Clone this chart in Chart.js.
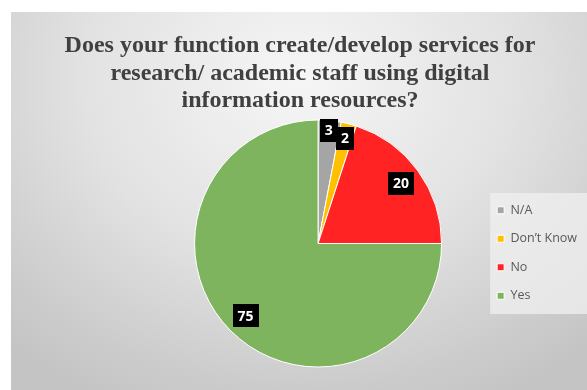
<!DOCTYPE html>
<html>
<head>
<meta charset="utf-8">
<script src="https://cdn.jsdelivr.net/npm/chart.js@4"></script>
<style>
  html, body { margin: 0; padding: 0; background: #fff; }
  #frame {
    position: absolute; left: 11px; top: 12px; width: 576px; height: 378px;
    background: radial-gradient(ellipse 75% 95% at 50% 18%, #f6f6f6 0%, #e2e2e2 50%, #cccccc 85%, #c4c4c4 100%);
  }
</style>
</head>
<body>
<div id="frame"><canvas id="myChart01"></canvas></div>
<script>
var titleLines = ["Does your function create/develop services for", "research/ academic staff using digital", "information resources?"];
var categories = ["N/A", "Don\u2019t Know", "No", "Yes"];
var responses = [3, 2, 20, 75];
var sliceColors = ["#a5a5a5", "#ffc000", "#ff2323", "#7fb45f"];
// how far out each value box sits, as a share of the radius
var labelReach = [0.92, 0.88, 0.83, 0.83];

// value boxes: black square with white number
var valueBoxes = {
    id: 'valueBoxes',
    afterDatasetsDraw: function (chart) {
        var ctx = chart.ctx;
        var meta = chart.getDatasetMeta(0);
        ctx.save();
        ctx.font = "bold 14px 'Open Sans'";
        ctx.textAlign = 'center';
        ctx.textBaseline = 'middle';
        meta.data.forEach(function (arc, i) {
            var p = arc.getProps(['x', 'y', 'startAngle', 'endAngle', 'outerRadius'], true);
            var mid = (p.startAngle + p.endAngle) / 2;
            var r = p.outerRadius * labelReach[i];
            var cx = p.x + Math.cos(mid) * r;
            var cy = p.y + Math.sin(mid) * r;
            var txt = String(chart.data.datasets[0].data[i]);
            var w = ctx.measureText(txt).width + 10;
            var h = 23;
            ctx.fillStyle = '#000';
            ctx.fillRect(Math.round(cx - w / 2), Math.round(cy - h / 2), Math.round(w), h);
            ctx.fillStyle = '#fff';
            ctx.fillText(txt, cx, cy + 1);
        });
        ctx.restore();
    }
};

// pale panel behind the legend, and title centred on the whole frame
var panels = {
    id: 'panels',
    afterLayout: function (chart) {
        var t = chart.titleBlock;
        t.left = 2;
        t.right = chart.width;
        t.width = t.right - t.left;
    },
    beforeDraw: function (chart) {
        var boxes = chart.legend.legendHitBoxes;
        if (!boxes || !boxes.length) return;
        var first = boxes[0], last = boxes[boxes.length - 1];
        var ctx = chart.ctx;
        ctx.save();
        ctx.fillStyle = 'rgba(240,240,240,0.75)';
        var left = first.left - 7;
        var top = first.top - 11;
        ctx.fillRect(left, top, chart.width - left, last.top + last.height + 12 - top);
        ctx.restore();
    }
};

var chartPlaceholder01 = document.getElementById("myChart01");
var newChart01 = new Chart(chartPlaceholder01, {
    type: 'pie',
    data: {
        labels: categories,
        datasets: [{
            data: responses,
            backgroundColor: sliceColors,
            borderColor: '#ffffff',
            borderWidth: 1
        }]
    },
    options: {
        responsive: true,
        maintainAspectRatio: false,
        animation: false,
        layout: { padding: { left: 144, right: 0, top: 0, bottom: 22.5 } },
        plugins: {
            tooltip: { enabled: false },
            title: {
                display: true,
                text: titleLines,
                color: '#404040',
                font: { family: "'Liberation Serif', 'Times New Roman', serif", size: 24, weight: 'bold', lineHeight: 1.15 },
                padding: { top: 20.2, bottom: 4.5 }
            },
            legend: {
                position: 'right',
                fullSize: false,
                maxWidth: 106,
                title: { display: true, text: '', font: { size: 12, lineHeight: 1.2 }, padding: 2.3 },
                labels: {
                    boxWidth: 7,
                    boxHeight: 7,
                    padding: 16,
                    color: '#595959',
                    font: { family: "'Open Sans'", size: 12.5 }
                }
            }
        }
    },
    plugins: [panels, valueBoxes]
});
</script>
</body>
</html>
